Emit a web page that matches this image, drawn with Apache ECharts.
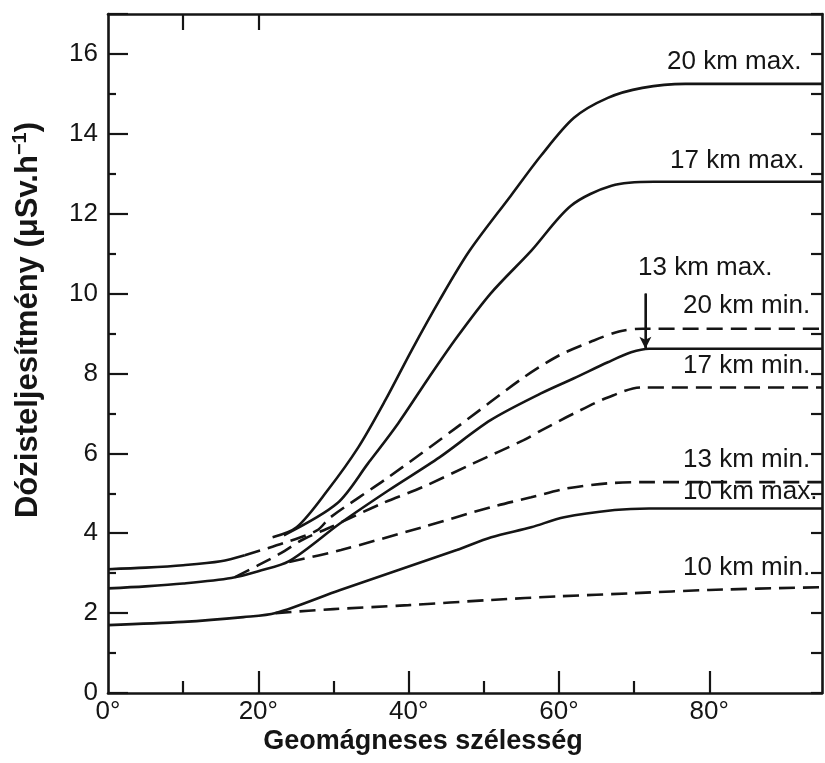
<!DOCTYPE html>
<html>
<head>
<meta charset="utf-8">
<script src="https://cdn.jsdelivr.net/npm/echarts@6/dist/echarts.min.js"></script>
<style>
html,body{margin:0;padding:0;background:#fff;}
#chart{width:825px;height:763px;}
</style>
</head>
<body>
<div id="chart"></div>
<script>
// ---- data (geomagnetic latitude in degrees, dose rate in µSv/h) ----
const xMajorTicks = [20, 40, 60, 80];
const xMinorTicks = [10, 30, 50, 70];
const xTopTicks = [10, 20];

const km20max = [[21.9,3.9],[25.1,4.15],[29.2,5.07],[33.3,6.15],[36.9,7.33],[40.4,8.58],[44.1,9.83],[48.1,11.07],[53.6,12.45],[57.6,13.45],[62.0,14.4],[66.5,14.9],[71.1,15.15],[76.8,15.25],[95,15.25]];
const km17max = [[23.4,3.95],[30.5,4.75],[34.6,5.75],[38.6,6.75],[42.7,7.9],[46.4,8.9],[50.9,10.0],[56.3,11.07],[61.6,12.2],[67.0,12.7],[72.6,12.8],[95,12.8]];
const km20minLow = [[0,3.1],[5,3.14],[10,3.2],[15,3.3],[18.2,3.45]];
const km20min = [[18.2,3.45],[23.3,3.75],[27.8,4.07],[29.6,4.4],[37.3,5.4],[46.4,6.65],[55.3,7.9],[60,8.45],[64.3,8.8],[68,9.05],[71.1,9.12],[95,9.12]];
const km13max = [[0,2.62],[5,2.67],[10,2.74],[16.4,2.88],[20,3.05],[24.1,3.3],[30.9,4.25],[37.3,5.07],[44.1,5.9],[50.9,6.83],[57.6,7.5],[62,7.88],[66.5,8.28],[69.6,8.53],[72,8.62],[95,8.62]];
const km17min = [[16.9,2.9],[20,3.2],[23,3.5],[26,3.85],[29.6,4.15],[36.5,4.75],[41.8,5.15],[48.6,5.75],[55.3,6.33],[57.6,6.57],[62,7.0],[66.5,7.4],[71,7.65],[95,7.65]];
const km13min = [[24.1,3.28],[31,3.58],[41.8,4.15],[50.9,4.65],[56.3,4.9],[61,5.12],[66.5,5.25],[72,5.28],[95,5.28]];
const km10max = [[0,1.7],[10,1.78],[18,1.9],[22.3,2.0],[30.9,2.58],[46.4,3.58],[51,3.9],[56.3,4.15],[60.7,4.4],[67.4,4.58],[72,4.62],[95,4.62]];
const km10min = [[22.3,2.0],[30,2.1],[40,2.2],[51,2.33],[60,2.42],[70,2.5],[80,2.58],[95,2.65]];
// arrow pointing at the 13 km max plateau
const arrow13max = [[71.5,10.0],[71.5,8.62]];

const curveLabels = [
  {text:'20 km max.', x:667, y:62},
  {text:'17 km max.', x:670, y:161},
  {text:'13 km max.', x:638, y:268},
  {text:'20 km min.', x:683, y:306},
  {text:'17 km min.', x:683, y:366},
  {text:'13 km min.', x:683, y:460},
  {text:'10 km max.', x:683, y:492},
  {text:'10 km min.', x:683, y:568}
];

const INK = '#151515';
const FONT = '"Liberation Sans", Arial, Helvetica, sans-serif';

function line(name, data, dashed) {
  return {
    name: name, type: 'line', data: data, xAxisIndex: 0, yAxisIndex: 0,
    smooth: 0.3, showSymbol: false, silent: true,
    lineStyle: {color: INK, width: 2.6, type: dashed ? [16, 8] : 'solid', cap: 'butt'},
    z: 3
  };
}

const chart = echarts.init(document.getElementById('chart'), null, {renderer: 'canvas'});
const series = [
  line('20 km max.', km20max, false),
  line('17 km max.', km17max, false),
  line('20 km min. (low lat.)', km20minLow, false),
  line('20 km min.', km20min, true),
  line('13 km max.', km13max, false),
  line('17 km min.', km17min, true),
  line('13 km min.', km13min, true),
  line('10 km max.', km10max, false),
  line('10 km min.', km10min, true),
  {
    name: 'arrow', type: 'line', data: arrow13max, showSymbol: false, silent: true,
    lineStyle: {color: INK, width: 2}, symbol: 'none',
    markLine: {
      silent: true, symbol: ['none', 'arrow'], symbolSize: [9, 12],
      lineStyle: {color: INK, width: 2, type: 'solid'}, label: {show: false},
      data: [[{coord: arrow13max[0]}, {coord: arrow13max[1]}]]
    }
  }
];

const tickStyle = {color: INK, width: 2.2};
chart.setOption({
  animation: false,
  backgroundColor: '#ffffff',
  grid: {left: 108, right: 3, top: 14, bottom: 70, containLabel: false},
  xAxis: [{
    type: 'value', min: 0, max: 95, interval: 20, position: 'bottom',
    axisLine: {show: true, onZero: false, lineStyle: {color: INK, width: 2.6}},
    axisTick: {show: true, inside: true, length: 22, customValues: xMajorTicks, lineStyle: tickStyle},
    splitLine: {show: false},
    axisLabel: {show: true, margin: 6, color: INK, fontSize: 26, fontFamily: FONT,
      showMaxLabel: false, formatter: v => v + '°'}
  }, {
    type: 'value', min: 0, max: 95, position: 'top',
    axisLine: {show: true, onZero: false, lineStyle: {color: INK, width: 2.6}},
    axisTick: {show: true, inside: true, length: 16, customValues: xTopTicks, lineStyle: tickStyle},
    axisLabel: {show: false}, splitLine: {show: false}
  }, {
    type: 'value', min: 0, max: 95, position: 'bottom',
    axisLine: {show: false, onZero: false},
    axisTick: {show: true, inside: true, length: 12, customValues: xMinorTicks, lineStyle: tickStyle},
    axisLabel: {show: false}, splitLine: {show: false}
  }],
  yAxis: [{
    type: 'value', min: 0, max: 17, interval: 2, position: 'left',
    axisLine: {show: true, onZero: false, lineStyle: {color: INK, width: 2.6}},
    axisTick: {show: true, inside: true, length: 20, lineStyle: tickStyle},
    minorTick: {show: true, splitNumber: 2, length: 8, lineStyle: tickStyle},
    splitLine: {show: false},
    axisLabel: {show: true, margin: 10, color: INK, fontSize: 26, fontFamily: FONT, showMaxLabel: false}
  }, {
    type: 'value', min: 0, max: 17, interval: 1, position: 'right',
    axisLine: {show: true, onZero: false, lineStyle: {color: INK, width: 2.6}},
    axisTick: {show: true, inside: true, length: 11, lineStyle: tickStyle},
    axisLabel: {show: false}, splitLine: {show: false}
  }],
  series: series,
  graphic: [
    {
      type: 'text', x: 28, y: 320, rotation: Math.PI / 2,
      style: {
        text: 'Dózisteljesítmény (μSv.h{sup|−1})',
        font: 'bold 31px ' + FONT, fill: INK, align: 'center', verticalAlign: 'middle',
        rich: {sup: {fontSize: 20, fontWeight: 'bold', fontFamily: FONT, fill: INK, verticalAlign: 'top', lineHeight: 36}}
      }
    },
    {
      type: 'text', x: 423, y: 742,
      style: {text: 'Geomágneses szélesség', font: 'bold 27px ' + FONT, fill: INK, align: 'center', verticalAlign: 'middle'}
    }
  ].concat(curveLabels.map(l => ({
    type: 'text', x: l.x, y: l.y, z: 10,
    style: {text: l.text, font: '26px ' + FONT, fill: INK, align: 'left', verticalAlign: 'middle'}
  })))
});
</script>
</body>
</html>
